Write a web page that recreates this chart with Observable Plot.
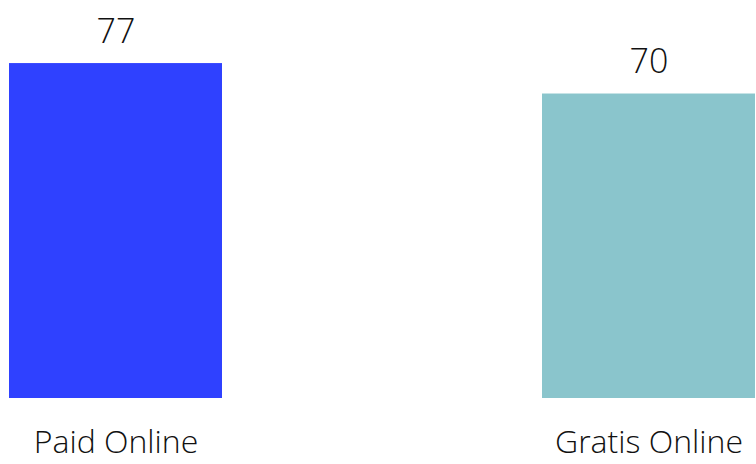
<!DOCTYPE html>
<html>
<head>
<meta charset="utf-8">
<script src="https://cdn.jsdelivr.net/npm/d3@7"></script>
<script src="https://cdn.jsdelivr.net/npm/@observablehq/plot@0.6"></script>
<style>
  html, body { margin: 0; padding: 0; background: #fff; }
  #chart svg { display: block; }
</style>
</head>
<body>
<div id="chart"></div>
<script>
const categories = ["Paid Online", "Gratis Online"];
const values = [77, 70];
const colors = ["#2F41FF", "#8AC5CC"];

const data = categories.map((c, i) => ({category: c, value: values[i]}));

const chart = Plot.plot({
  width: 756,
  height: 464,
  marginTop: 0,
  marginLeft: 9,
  marginRight: 0,
  marginBottom: 66,
  style: {fontFamily: "'Open Sans', sans-serif", fontWeight: 300, background: "#fff", overflow: "visible"},
  x: {domain: categories, paddingInner: 0.6, paddingOuter: 0, axis: null},
  y: {domain: [0, 91.5], axis: null},
  color: {domain: categories, range: colors},
  marks: [
    Plot.barY(data, {x: "category", y: "value", fill: "category"}),
    Plot.text(data, {x: "category", y: "value", text: d => String(d.value), dy: -21, lineAnchor: "bottom", fontSize: 34, fill: "#111", fontWeight: 300}),
    Plot.axisX({tickSize: 0, tickPadding: 32, fontSize: 32, fontWeight: 300, color: "#111", label: null})
  ]
});
document.getElementById("chart").appendChild(chart);
</script>
</body>
</html>
